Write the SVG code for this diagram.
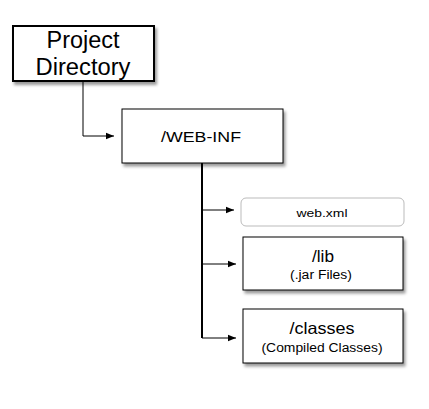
<svg xmlns="http://www.w3.org/2000/svg" width="429" height="409" viewBox="0 0 429 409">
<style>
text{font-family:"Liberation Sans",Arial,sans-serif;fill:#000;text-anchor:middle}
.box{fill:#fff;stroke:#000;stroke-width:1}
.line{fill:none;stroke:#000;stroke-width:1}
</style>
<defs>
<filter id="sh" x="-10%" y="-10%" width="130%" height="140%">
<feDropShadow dx="2" dy="3" stdDeviation="1.6" flood-color="#000" flood-opacity="0.4"/>
</filter>
<marker id="ah" viewBox="0 0 10 10" refX="10" refY="5" markerWidth="10" markerHeight="8" markerUnits="userSpaceOnUse" orient="auto">
<path d="M0,1 L10,5 L0,9 Z" fill="#000"/>
</marker>
</defs>
<rect width="429" height="409" fill="#fff"/>
<g id="connectors">
<path class="line" d="M83,81 V136 H114" marker-end="url(#ah)"/>
<path class="line" style="stroke-width:2" d="M202,163 V338"/>
<path class="line" d="M202,210 H234" marker-end="url(#ah)"/>
<path class="line" d="M202,264 H236" marker-end="url(#ah)"/>
<path class="line" d="M202,338 H236" marker-end="url(#ah)"/>
</g>
<g id="project-directory">
<rect class="box" x="13" y="26" width="141" height="55" style="stroke-width:2" filter="url(#sh)"/>
<text x="83" y="48" font-size="23.5" textLength="73" lengthAdjust="spacingAndGlyphs">Project</text>
<text x="83" y="75" font-size="23.5" textLength="95" lengthAdjust="spacingAndGlyphs">Directory</text>
</g>
<g id="web-inf">
<rect class="box" x="122" y="109" width="161" height="54" filter="url(#sh)"/>
<text x="201" y="142" font-size="15" textLength="80" lengthAdjust="spacingAndGlyphs">/WEB-INF</text>
</g>
<g id="web-xml">
<rect x="241" y="198" width="163" height="28" rx="5" fill="#fff" stroke="#bbb" stroke-width="1"/>
<text x="322" y="217" font-size="11.5" textLength="51" lengthAdjust="spacingAndGlyphs">web.xml</text>
</g>
<g id="lib">
<rect class="box" x="243" y="237" width="160" height="53" filter="url(#sh)"/>
<text x="323" y="262" font-size="16.5" textLength="22" lengthAdjust="spacingAndGlyphs">/lib</text>
<text x="321" y="279" font-size="12" textLength="62" lengthAdjust="spacingAndGlyphs">(.jar Files)</text>
</g>
<g id="classes">
<rect class="box" x="243" y="309" width="160" height="54" filter="url(#sh)"/>
<text x="322" y="334" font-size="16.5" textLength="65" lengthAdjust="spacingAndGlyphs">/classes</text>
<text x="322" y="352" font-size="12.5" textLength="121" lengthAdjust="spacingAndGlyphs">(Compiled Classes)</text>
</g>
</svg>
